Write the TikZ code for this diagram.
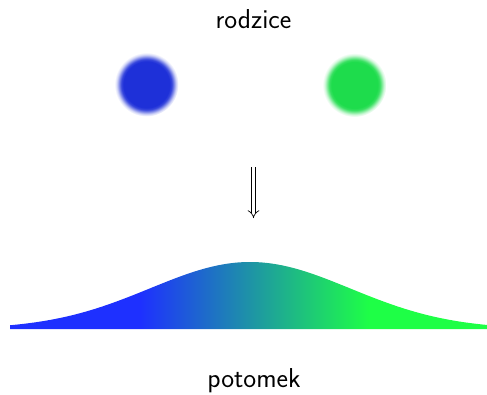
\documentclass[tikz,border=0pt]{standalone}
\usetikzlibrary{arrows.meta}
\definecolor{cblue}{RGB}{30,48,216}
\definecolor{cgreen}{RGB}{30,220,76}
\definecolor{gblue}{RGB}{30,48,255}
\definecolor{ggreen}{RGB}{30,255,70}
\pgfdeclareradialshading{blurblue}{\pgfpoint{0bp}{0bp}}{color(0bp)=(cblue); color(18bp)=(cblue); color(19.8bp)=(cblue!88!white); color(21.5bp)=(cblue!55!white); color(23.2bp)=(cblue!20!white); color(25bp)=(white); color(50bp)=(white)}
\pgfdeclareradialshading{blurgreen}{\pgfpoint{0bp}{0bp}}{color(0bp)=(cgreen); color(18bp)=(cgreen); color(19.8bp)=(cgreen!88!white); color(21.5bp)=(cgreen!55!white); color(23.2bp)=(cgreen!20!white); color(25bp)=(white); color(50bp)=(white)}
\pgfdeclarehorizontalshading{gaussgrad}{100bp}{color(0bp)=(gblue); color(38.6bp)=(gblue); color(62.7bp)=(ggreen); color(100bp)=(ggreen)}
\tikzset{
  lbl/.style={font=\sffamily\fontsize{20.5}{22}\selectfont, inner sep=0pt, anchor=base},
  blob/.style={circle, minimum size=48pt, inner sep=0pt},
}
\begin{document}
\begin{tikzpicture}[x=0.75pt,y=-0.75pt]
\useasboundingbox (0,0) rectangle (487,394);
\node[lbl] (parents) at (253.5,28.3) {rodzice};
\node[lbl] (child) at (254,387) {potomek};
\node[blob, shading=blurblue] (p1) at (146.5,84.5) {};
\node[blob, shading=blurgreen] (p2) at (354.5,85) {};
\coordinate (atop) at (253.5,167);
\coordinate (abot) at (253.5,218);
\draw[double, double distance=2.6pt, line width=0.5pt, -{Implies[scale=1.3]}] (atop) -- (abot);
\shade[shading=gaussgrad] (10,329) -- plot[domain=10:487, samples=120, smooth] (\x, {329-67*exp(-0.5*((\x-250)/100)^2)}) -- (487,329) -- cycle;
\end{tikzpicture}
\end{document}
